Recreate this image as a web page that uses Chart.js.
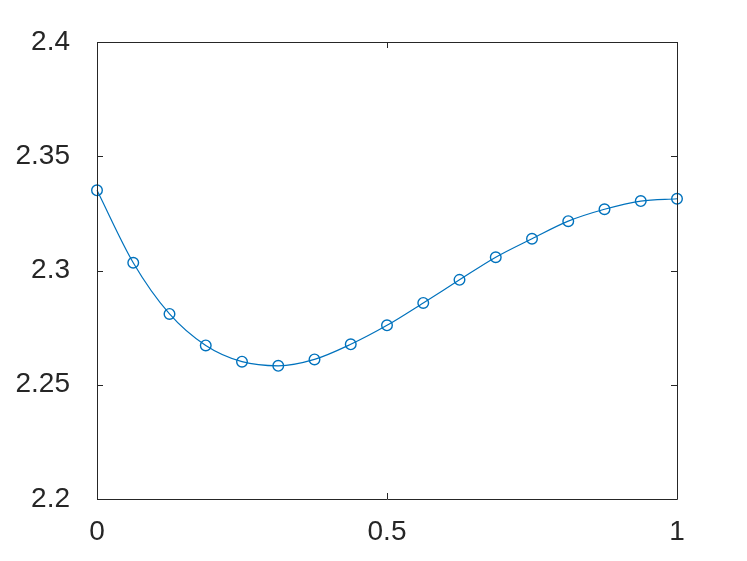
<!DOCTYPE html>
<html>
<head>
<meta charset="utf-8">
<script src="https://cdn.jsdelivr.net/npm/chart.js@4/dist/chart.umd.min.js"></script>
<style>
  html, body { margin: 0; padding: 0; background: #fff; }
  #wrap { width: 747px; height: 561px; }
</style>
</head>
<body>
<div id="wrap"><canvas id="chart" width="747" height="561"></canvas></div>
<script>
// data
const xValues = [0, 0.0625, 0.125, 0.1875, 0.25, 0.3125, 0.375, 0.4375, 0.5,
                 0.5625, 0.625, 0.6875, 0.75, 0.8125, 0.875, 0.9375, 1];
const yValues = [2.3351, 2.3034, 2.2810, 2.2672, 2.2601, 2.2583, 2.2611, 2.2677, 2.2760,
                 2.2858, 2.2959, 2.3058, 2.3139, 2.3216, 2.3268, 2.3304, 2.3314];
const xTicks = [0, 0.5, 1];
const xTickLabels = ['0', '0.5', '1'];
const yTicks = [2.2, 2.25, 2.3, 2.35, 2.4];
const yTickLabels = ['2.2', '2.25', '2.3', '2.35', '2.4'];

const axisColor = '#262626';
const lineColor = '#0072BD';

// box around the plot area with inward tick marks (matlab style)
const boxTicks = {
    id: 'boxTicks',
    afterDraw(chart) {
        const { ctx, chartArea: a, scales } = chart;
        const len = 6;
        ctx.save();
        ctx.strokeStyle = axisColor;
        ctx.lineWidth = 1;
        ctx.beginPath();
        ctx.rect(Math.round(a.left) + 0.5, Math.round(a.top) + 0.5,
                 Math.round(a.right - a.left), Math.round(a.bottom - a.top));
        scales.x.ticks.forEach(t => {
            const px = Math.round(scales.x.getPixelForValue(t.value)) + 0.5;
            ctx.moveTo(px, a.bottom); ctx.lineTo(px, a.bottom - len);
            ctx.moveTo(px, a.top); ctx.lineTo(px, a.top + len);
        });
        scales.y.ticks.forEach(t => {
            const py = Math.round(scales.y.getPixelForValue(t.value)) + 0.5;
            ctx.moveTo(a.left, py); ctx.lineTo(a.left + len, py);
            ctx.moveTo(a.right, py); ctx.lineTo(a.right - len, py);
        });
        ctx.stroke();
        ctx.restore();
    }
};

const tickFont = { family: '"Liberation Sans", Arial, sans-serif', size: 28 };

new Chart(document.getElementById('chart'), {
    type: 'line',
    data: {
        datasets: [{
            data: xValues.map((x, i) => ({ x, y: yValues[i] })),
            borderColor: lineColor,
            borderWidth: 1.2,
            pointStyle: 'circle',
            pointRadius: 5.3,
            pointBorderWidth: 1.4,
            pointBorderColor: lineColor,
            pointBackgroundColor: 'rgba(0,0,0,0)',
            cubicInterpolationMode: 'monotone',
            fill: false,
            clip: false,
        }]
    },
    options: {
        responsive: false,
        animation: false,
        events: [],
        layout: { padding: { top: 42, right: 70, left: 0, bottom: 0 } },
        plugins: { legend: { display: false }, tooltip: { enabled: false } },
        scales: {
            x: {
                type: 'linear',
                min: 0, max: 1,
                grid: { display: false },
                border: { display: false },
                afterFit: s => { s.height = 62; },
                afterBuildTicks: s => { s.ticks = xTicks.map(v => ({ value: v })); },
                ticks: {
                    color: axisColor,
                    font: tickFont,
                    padding: 8,
                    maxRotation: 0,
                    callback: (v) => xTickLabels[xTicks.indexOf(v)],
                }
            },
            y: {
                type: 'linear',
                min: 2.2, max: 2.4,
                grid: { display: false },
                border: { display: false },
                afterFit: s => { s.width = 97; },
                afterBuildTicks: s => { s.ticks = yTicks.map(v => ({ value: v })); },
                ticks: {
                    color: axisColor,
                    font: tickFont,
                    padding: 19,
                    callback: (v) => yTickLabels[yTicks.indexOf(v)],
                }
            }
        }
    },
    plugins: [boxTicks]
});
</script>
</body>
</html>
